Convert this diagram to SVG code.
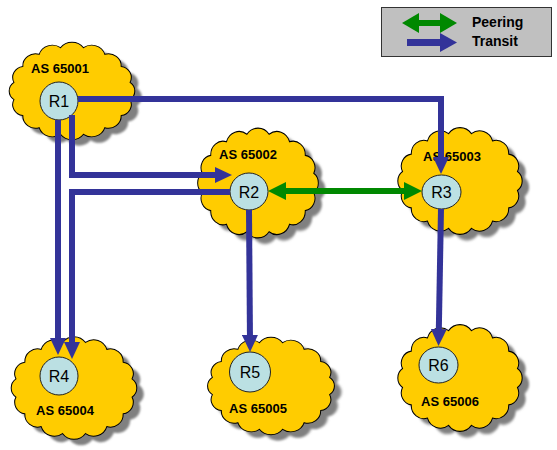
<svg xmlns="http://www.w3.org/2000/svg" xmlns:xlink="http://www.w3.org/1999/xlink" width="557" height="450" viewBox="0 0 557 450">
<style>
.cloud{fill:#FFCC00;stroke:#000;stroke-width:1}
.shadow{fill:#808080;stroke:none;filter:url(#blur)}
.rtr{fill:#BBE0E3;stroke:#222;stroke-width:1}
.as{font-family:"Liberation Sans",Arial,sans-serif;font-weight:bold;font-size:13px;fill:#000;text-anchor:middle}
.rl{font-family:"Liberation Sans",Arial,sans-serif;font-size:16px;fill:#000;text-anchor:middle}
.lg{font-family:"Liberation Sans",Arial,sans-serif;font-weight:bold;font-size:14px;fill:#000}
.tr{fill:none;stroke:#333399;stroke-width:6;marker-end:url(#ab)}
.pe{fill:none;stroke:#008800;stroke-width:6;marker-start:url(#ag);marker-end:url(#ag)}
</style>
<defs>
<filter id="blur" x="-10%" y="-10%" width="120%" height="120%"><feGaussianBlur stdDeviation="1.3"/></filter>
<path id="cl" d="M-56.9,-9 A11.5 11.5 0 0 1 -48.2,-25.6 A12.5 12.5 0 0 1 -32.2,-38.2 A13.5 13.5 0 0 1 -11.3,-45.1 A14 14 0 0 1 11.3,-45.1 A13.5 13.5 0 0 1 32.2,-38.2 A12.5 12.5 0 0 1 48.2,-25.6 A11.5 11.5 0 0 1 56.9,-9 A11 11 0 0 1 56.9,9 A11.5 11.5 0 0 1 48.2,25.6 A12.5 12.5 0 0 1 32.2,38.2 A13.5 13.5 0 0 1 11.3,45.1 A14 14 0 0 1 -11.3,45.1 A13.5 13.5 0 0 1 -32.2,38.2 A12.5 12.5 0 0 1 -48.2,25.6 A11.5 11.5 0 0 1 -56.9,9 A11 11 0 0 1 -56.9,-9 Z"/>
<marker id="ab" markerUnits="userSpaceOnUse" viewBox="0 0 17 16" markerWidth="17" markerHeight="16" refX="7" refY="8" orient="auto"><path d="M0,0 L17,8 L0,16 Z" fill="#333399"/></marker>
<marker id="ag" markerUnits="userSpaceOnUse" viewBox="0 0 18 18" markerWidth="18" markerHeight="18" refX="8" refY="9" orient="auto-start-reverse"><path d="M0,0 L18,9 L0,18 Z" fill="#008800"/></marker>
<marker id="lb" markerUnits="userSpaceOnUse" viewBox="0 0 17 19" markerWidth="17" markerHeight="19" refX="7" refY="9.5" orient="auto"><path d="M0,0 L17,9.5 L0,19 Z" fill="#333399"/></marker>
<marker id="lgm" markerUnits="userSpaceOnUse" viewBox="0 0 17 20" markerWidth="17" markerHeight="20" refX="7" refY="10" orient="auto-start-reverse"><path d="M0,0 L17,10 L0,20 Z" fill="#008800"/></marker>
</defs>
<rect width="557" height="450" fill="#fff"/>

<g id="legend">
<rect x="381.5" y="7.5" width="170" height="49" fill="#C0C0C0" stroke="#333" stroke-width="1"/>
<path d="M412,23 H447" fill="none" stroke="#008800" stroke-width="6" marker-start="url(#lgm)" marker-end="url(#lgm)"/>
<path d="M407,42.5 H447" fill="none" stroke="#333399" stroke-width="7" marker-end="url(#lb)"/>
<text class="lg" x="472" y="27">Peering</text>
<text class="lg" x="472" y="46">Transit</text>
</g>

<g id="as65001">
<use xlink:href="#cl" class="shadow" transform="translate(79,97) scale(1.02,0.96)"/>
<use xlink:href="#cl" class="cloud" transform="translate(72,91) scale(1.02,0.96)"/>
<text class="as" x="60" y="73">AS 65001</text>
<ellipse class="rtr" cx="59" cy="101" rx="19" ry="19"/>
<text class="rl" x="59" y="107">R1</text>
</g>

<g id="as65002">
<use xlink:href="#cl" class="shadow" transform="translate(265,189) scale(0.98,1.08)"/>
<use xlink:href="#cl" class="cloud" transform="translate(258,183) scale(0.98,1.08)"/>
<text class="as" x="248" y="159">AS 65002</text>
<ellipse class="rtr" cx="249" cy="191.5" rx="19" ry="18.5"/>
<text class="rl" x="249" y="197.5">R2</text>
</g>

<g id="as65003">
<use xlink:href="#cl" class="shadow" transform="translate(467,187) scale(1.01,1.05)"/>
<use xlink:href="#cl" class="cloud" transform="translate(460,181) scale(1.01,1.05)"/>
<text class="as" x="452" y="161">AS 65003</text>
<ellipse class="rtr" cx="441.5" cy="192" rx="19.5" ry="17"/>
<text class="rl" x="441.5" y="198">R3</text>
</g>

<g id="as65004">
<use xlink:href="#cl" class="shadow" transform="translate(81,394) scale(1.02,1.01)"/>
<use xlink:href="#cl" class="cloud" transform="translate(74,388) scale(1.02,1.01)"/>
<text class="as" x="65" y="415">AS 65004</text>
<ellipse class="rtr" cx="59" cy="376" rx="19" ry="19"/>
<text class="rl" x="59" y="382">R4</text>
</g>

<g id="as65005">
<use xlink:href="#cl" class="shadow" transform="translate(278,392) scale(1.03,0.96)"/>
<use xlink:href="#cl" class="cloud" transform="translate(271,386) scale(1.03,0.96)"/>
<text class="as" x="258" y="413">AS 65005</text>
<ellipse class="rtr" cx="250" cy="372" rx="20.5" ry="20"/>
<text class="rl" x="250" y="378">R5</text>
</g>

<g id="as65006">
<use xlink:href="#cl" class="shadow" transform="translate(467,384) scale(1.01,1.05)"/>
<use xlink:href="#cl" class="cloud" transform="translate(460,378) scale(1.01,1.05)"/>
<text class="as" x="450" y="406">AS 65006</text>
<ellipse class="rtr" cx="438.5" cy="365" rx="19.5" ry="18"/>
<text class="rl" x="438.5" y="371">R6</text>
</g>

<g id="connectors">
<path class="tr" d="M78,99 H441 V164"/>
<path class="tr" d="M72,115 V175 H222"/>
<path class="tr" d="M230,192 H72 V349"/>
<path class="tr" d="M58,120 V345"/>
<path class="tr" d="M249,210 L250,342"/>
<path class="tr" d="M441,209 L438.7,336"/>
<path class="pe" d="M278,191 H412"/>
</g>
</svg>
